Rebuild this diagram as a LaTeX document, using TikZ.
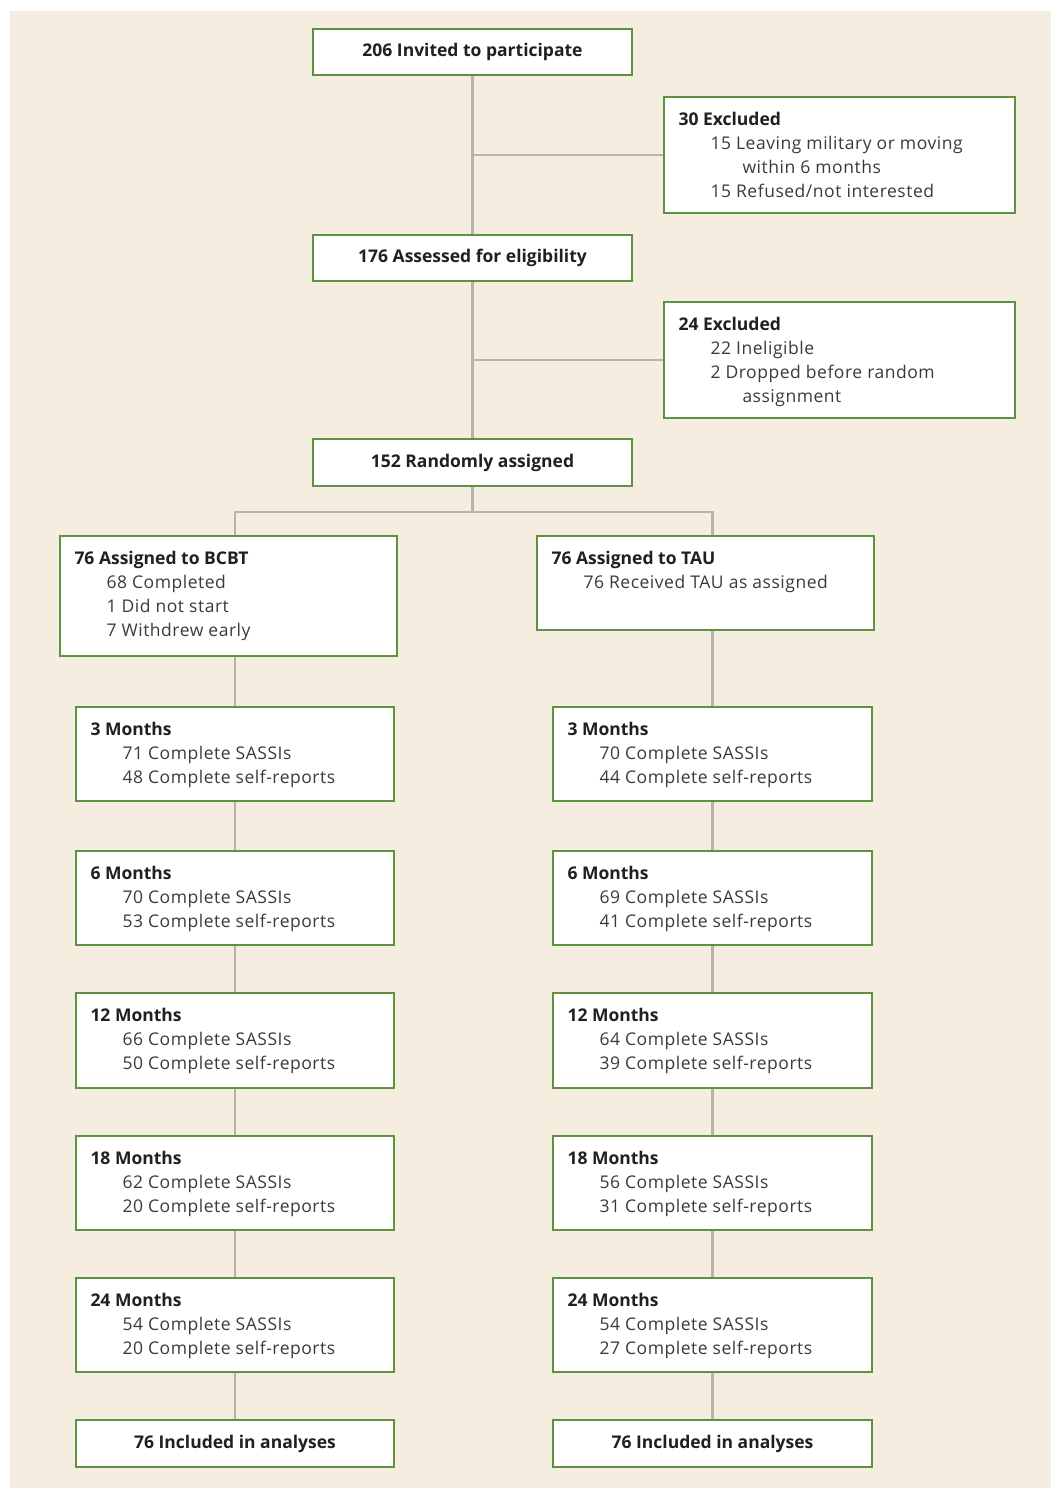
\documentclass[tikz,border=0pt]{standalone}
\usepackage{fontspec}
\setmainfont{Open Sans}[LetterSpace=3, BoldFeatures={LetterSpace=0}]
\usetikzlibrary{backgrounds}
\definecolor{bgbeige}{HTML}{F5EDE0}
\definecolor{boxgreen}{HTML}{5E9140}
\definecolor{linegray}{HTML}{BAB3AC}
\definecolor{txtreg}{HTML}{3A3A3A}
\definecolor{txtbold}{HTML}{231F20}
\newcommand\hd[1]{{\bfseries\color{txtbold}#1}}
\newcommand\ind{\hspace*{32pt}}
\newcommand\boxtext[3]{\parbox[t][#2pt][t]{#1pt}{\raggedright\leftskip=14.5pt\rule{0pt}{28pt}#3}}
\pgfdeclarelayer{bottom}
\pgfsetlayers{bottom,background,main}
\begin{document}
\begin{tikzpicture}[x=1pt,y=-1pt,
  box/.style={draw=boxgreen, line width=2pt, fill=white, inner sep=0pt, anchor=north west,
    text=txtreg, font=\fontsize{17.5}{24}\selectfont},
  cbox/.style={box, minimum width=#1, font=\fontsize{17.5}{24}\selectfont\bfseries, text=txtbold},
  conn/.style={draw=linegray, line width=2.2pt}]
\useasboundingbox (0,0) rectangle (1051,1488);
\begin{pgfonlayer}{bottom}
\fill[bgbeige] (10,11) rectangle (1051,1488);
\end{pgfonlayer}
% top part
\node[cbox=319pt, minimum height=46pt] (top) at (312,28) {206 Invited to participate};
\node[box] (ex1) at (663,96) {\boxtext{351}{116}{\hd{30 Excluded}\\ \ind 15 Leaving military or moving\\ \ind\ind within 6 months\\ \ind 15 Refused/not interested}};
\node[cbox=319pt, minimum height=46pt] (ass) at (312,234) {176 Assessed for eligibility};
\node[box] (ex2) at (663,301) {\boxtext{351}{116}{\hd{24 Excluded}\\ \ind 22 Ineligible\\ \ind 2 Dropped before random\\ \ind\ind assignment}};
\node[cbox=319pt, minimum height=47pt] (rnd) at (312,438) {152 Randomly assigned};
% arms
\node[box] (bcbt) at (59,535) {\boxtext{337}{120}{\hd{76 Assigned to BCBT}\\ \ind 68 Completed\\ \ind 1 Did not start\\ \ind 7 Withdrew early}};
\node[box] (tau) at (536,535) {\boxtext{337}{94}{\hd{76 Assigned to TAU}\\ \ind 76 Received TAU as assigned}};
% left column
\node[box] (l3) at (75,706) {\boxtext{318}{94}{\hd{3 Months}\\ \ind 71 Complete SASSIs\\ \ind 48 Complete self-reports}};
\node[box] (l6) at (75,850) {\boxtext{318}{94}{\hd{6 Months}\\ \ind 70 Complete SASSIs\\ \ind 53 Complete self-reports}};
\node[box] (l12) at (75,992) {\boxtext{318}{95}{\hd{12 Months}\\ \ind 66 Complete SASSIs\\ \ind 50 Complete self-reports}};
\node[box] (l18) at (75,1135) {\boxtext{318}{94}{\hd{18 Months}\\ \ind 62 Complete SASSIs\\ \ind 20 Complete self-reports}};
\node[box] (l24) at (75,1277) {\boxtext{318}{94}{\hd{24 Months}\\ \ind 54 Complete SASSIs\\ \ind 20 Complete self-reports}};
\node[cbox=318pt, minimum height=47pt] (lin) at (75,1419) {76 Included in analyses};
% right column
\node[box] (r3) at (552,706) {\boxtext{319}{94}{\hd{3 Months}\\ \ind 70 Complete SASSIs\\ \ind 44 Complete self-reports}};
\node[box] (r6) at (552,850) {\boxtext{319}{94}{\hd{6 Months}\\ \ind 69 Complete SASSIs\\ \ind 41 Complete self-reports}};
\node[box] (r12) at (552,992) {\boxtext{319}{95}{\hd{12 Months}\\ \ind 64 Complete SASSIs\\ \ind 39 Complete self-reports}};
\node[box] (r18) at (552,1135) {\boxtext{319}{94}{\hd{18 Months}\\ \ind 56 Complete SASSIs\\ \ind 31 Complete self-reports}};
\node[box] (r24) at (552,1277) {\boxtext{319}{94}{\hd{24 Months}\\ \ind 54 Complete SASSIs\\ \ind 27 Complete self-reports}};
\node[cbox=319pt, minimum height=47pt] (rin) at (552,1419) {76 Included in analyses};
% connectors
\path (rnd.south) ++(0,25) coordinate (split);
\begin{pgfonlayer}{background}
\draw[conn] (top.south) -- (ass.north);
\draw[conn] (top.south |- ex1.west) -- (ex1.west);
\draw[conn] (ass.south) -- (rnd.north);
\draw[conn] (ass.south |- ex2.west) -- (ex2.west);
\draw[conn] (rnd.south) -- (split);
\draw[conn] (bcbt.north -| l3.north) |- (split) -| (tau.north -| r3.north);
\draw[conn] (bcbt.south -| l3.north) -- (l3.north);
\draw[conn] (l3.south) -- (l6.north);
\draw[conn] (l6.south) -- (l12.north);
\draw[conn] (l12.south) -- (l18.north);
\draw[conn] (l18.south) -- (l24.north);
\draw[conn] (l24.south) -- (lin.north);
\draw[conn] (tau.south -| r3.north) -- (r3.north);
\draw[conn] (r3.south) -- (r6.north);
\draw[conn] (r6.south) -- (r12.north);
\draw[conn] (r12.south) -- (r18.north);
\draw[conn] (r18.south) -- (r24.north);
\draw[conn] (r24.south) -- (rin.north);
\end{pgfonlayer}
\end{tikzpicture}
\end{document}
